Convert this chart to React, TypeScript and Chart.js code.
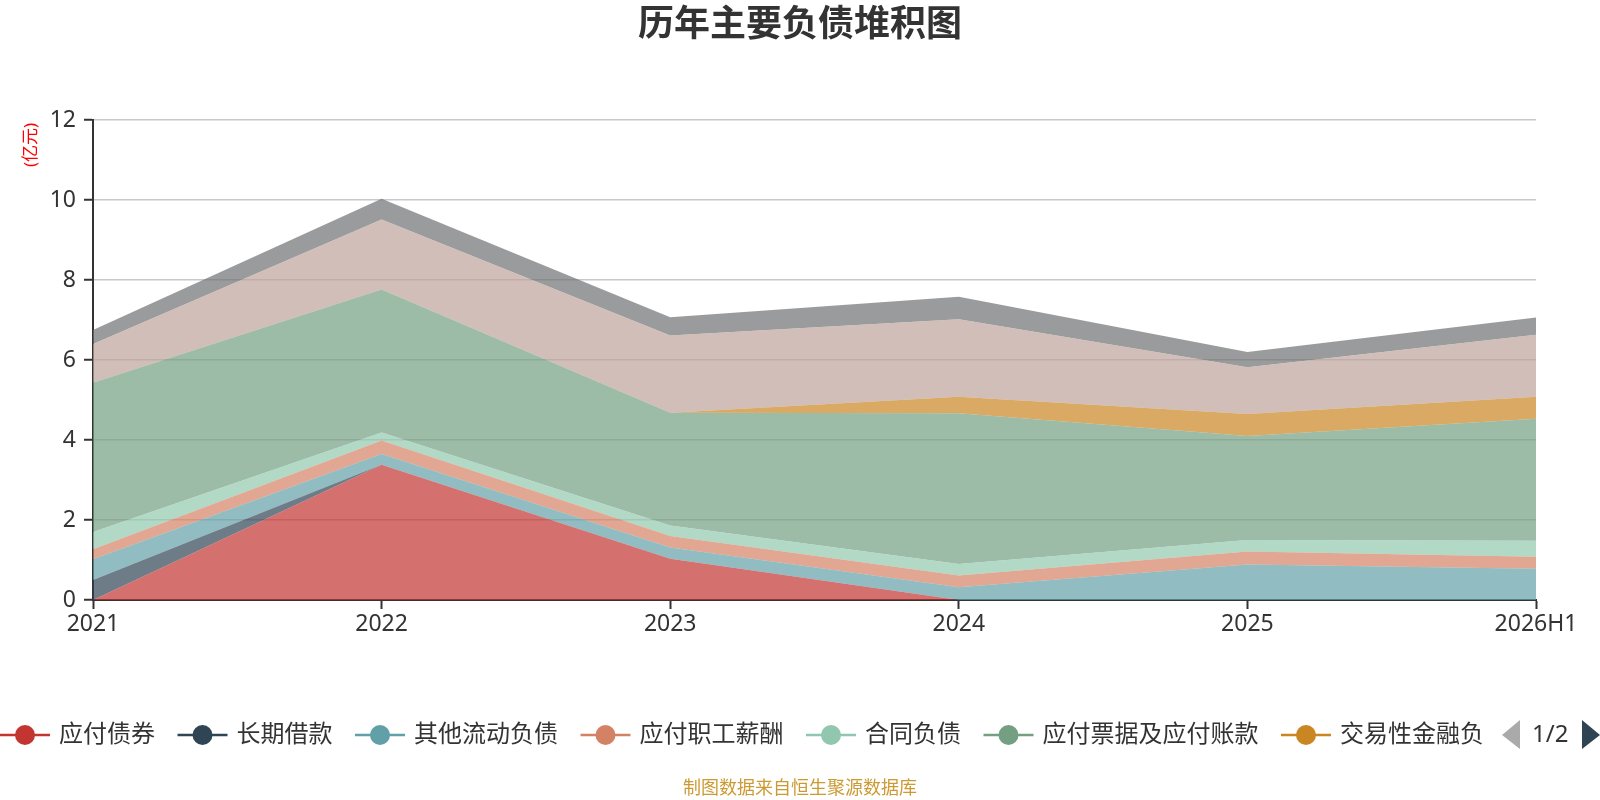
import React, { useEffect, useRef } from "react";
import Chart from "chart.js/auto";

// 年份
const years = ["2021", "2022", "2023", "2024", "2025", "2026H1"];

// 各负债项目 (亿元)
const bondsPayable = [0, 3.38, 1.03, 0, 0, 0];
const longTermLoans = [0.5, 0, 0, 0, 0, 0];
const otherCurrentLiab = [0.52, 0.27, 0.28, 0.32, 0.89, 0.78];
const payrollPayable = [0.25, 0.34, 0.29, 0.29, 0.32, 0.3];
const contractLiab = [0.43, 0.2, 0.26, 0.29, 0.29, 0.4];
const notesAccountsPayable = [3.73, 3.57, 2.82, 3.77, 2.6, 3.05];
const tradingFinLiab = [0, 0, 0, 0.41, 0.55, 0.55];
const shortTermLoans = [0.97, 1.75, 1.93, 1.94, 1.17, 1.55];
const otherPayables = [0.35, 0.52, 0.46, 0.56, 0.38, 0.43];

const seriesNames = [
    "应付债券",
    "长期借款",
    "其他流动负债",
    "应付职工薪酬",
    "合同负债",
    "应付票据及应付账款",
    "交易性金融负",
    "短期借款",
    "其他应付款",
];
const seriesData = [
    bondsPayable,
    longTermLoans,
    otherCurrentLiab,
    payrollPayable,
    contractLiab,
    notesAccountsPayable,
    tradingFinLiab,
    shortTermLoans,
    otherPayables,
];
const palette = [
    "#c23531",
    "#2f4554",
    "#61a0a8",
    "#d48265",
    "#91c7ae",
    "#749f83",
    "#ca8622",
    "#bda29a",
    "#6e7074",
];

const yTicks = [0, 2, 4, 6, 8, 10, 12];
const legendPage = 7; // 第一页显示的图例数

const FONT = "'Noto Sans', 'Noto Sans CJK SC', sans-serif";

function hexToRgba(hex: string, a: number) {
    const n = parseInt(hex.slice(1), 16);
    return `rgba(${(n >> 16) & 255}, ${(n >> 8) & 255}, ${n & 255}, ${a})`;
}

const decorPlugin = {
    id: "decor",
    afterDraw(chart: any) {
        const ctx = chart.ctx as CanvasRenderingContext2D;
        ctx.save();

        // 标题
        ctx.fillStyle = "#333";
        ctx.font = `bold 36px ${FONT}`;
        ctx.textAlign = "center";
        ctx.textBaseline = "middle";
        ctx.fillText("历年主要负债堆积图", 800, 26);

        // y轴单位
        ctx.save();
        ctx.translate(31, 145);
        ctx.rotate(-Math.PI / 2);
        ctx.fillStyle = "#ff0000";
        ctx.font = `17px ${FONT}`;
        ctx.fillText("(亿元)", 0, 0);
        ctx.restore();

        // 图例
        const ly = 735;
        let x = 0;
        ctx.font = `24px ${FONT}`;
        ctx.textAlign = "left";
        chart.data.datasets.slice(0, legendPage).forEach((ds: any, i: number) => {
            const c = palette[i];
            ctx.strokeStyle = c;
            ctx.lineWidth = 2.5;
            ctx.beginPath();
            ctx.moveTo(x, ly);
            ctx.lineTo(x + 50, ly);
            ctx.stroke();
            ctx.fillStyle = c;
            ctx.beginPath();
            ctx.arc(x + 25, ly, 10, 0, Math.PI * 2);
            ctx.fill();
            ctx.fillStyle = "#333";
            ctx.fillText(ds.label, x + 59, ly);
            x += 59 + ctx.measureText(ds.label).width + 22.5;
        });

        // 翻页
        ctx.fillStyle = "#aaaaaa";
        ctx.beginPath();
        ctx.moveTo(1502, 735);
        ctx.lineTo(1520, 720);
        ctx.lineTo(1520, 749);
        ctx.closePath();
        ctx.fill();
        ctx.fillStyle = "#333";
        ctx.fillText("1/2", 1532, ly);
        ctx.fillStyle = "#2f4554";
        ctx.beginPath();
        ctx.moveTo(1600, 735);
        ctx.lineTo(1582, 720);
        ctx.lineTo(1582, 749);
        ctx.closePath();
        ctx.fill();

        // 数据来源
        ctx.fillStyle = "#cc9a33";
        ctx.font = `18px ${FONT}`;
        ctx.textAlign = "center";
        ctx.fillText("制图数据来自恒生聚源数据库", 800, 789);

        ctx.restore();
    },
};

export default function App() {
    const canvasRef = useRef<HTMLCanvasElement | null>(null);
    const chartRef = useRef<Chart | null>(null);

    useEffect(() => {
        document.body.style.margin = "0";
        try {
            const canvas = canvasRef.current;
            if (!canvas) return;

            if (chartRef.current) {
                chartRef.current.destroy();
                chartRef.current = null;
            }

            const datasets = seriesNames.map((name, i) => ({
                label: name,
                data: seriesData[i],
                backgroundColor: hexToRgba(palette[i], 0.7),
                borderColor: "transparent",
                borderWidth: 0,
                pointRadius: 0,
                pointHoverRadius: 0,
                fill: i === 0 ? "origin" : "-1",
                tension: 0,
            }));

            chartRef.current = new Chart(canvas, {
                type: "line",
                data: { labels: years, datasets: datasets as any },
                options: {
                    responsive: true,
                    maintainAspectRatio: false,
                    animation: false,
                    layout: { padding: { top: 120, right: 64, bottom: 0, left: 0 } },
                    plugins: {
                        legend: { display: false },
                        title: { display: false },
                        tooltip: { enabled: false },
                    },
                    scales: {
                        x: {
                            offset: false,
                            grid: {
                                drawOnChartArea: false,
                                tickColor: "#333",
                                tickLength: 9,
                                tickWidth: 2,
                            },
                            border: { color: "#333", width: 2 },
                            ticks: {
                                color: "#333",
                                font: { family: FONT, size: 23 },
                                padding: 2,
                                maxRotation: 0,
                                autoSkip: false,
                            },
                            afterFit: (scale: any) => {
                                scale.height = 200;
                            },
                        },
                        y: {
                            stacked: true,
                            min: 0,
                            max: 12,
                            afterBuildTicks: (scale: any) => {
                                scale.ticks = yTicks.map((v) => ({ value: v }));
                            },
                            grid: {
                                color: "#c8c8c8",
                                lineWidth: 1.5,
                                tickColor: "#333",
                                tickLength: 9,
                                tickWidth: 2,
                            },
                            border: { color: "#333", width: 2 },
                            ticks: {
                                color: "#333",
                                font: { family: FONT, size: 23 },
                                padding: 8,
                            },
                            afterFit: (scale: any) => {
                                scale.width = 93;
                            },
                        },
                    },
                } as any,
                plugins: [decorPlugin],
            });
        } catch (e) {
            console.error("Chart init failed", e);
        }

        return () => {
            if (chartRef.current) {
                chartRef.current.destroy();
                chartRef.current = null;
            }
        };
    }, []);

    return (
        <div style={{ position: "relative", width: "1600px", height: "800px" }}>
            <canvas ref={canvasRef} />
        </div>
    );
}
